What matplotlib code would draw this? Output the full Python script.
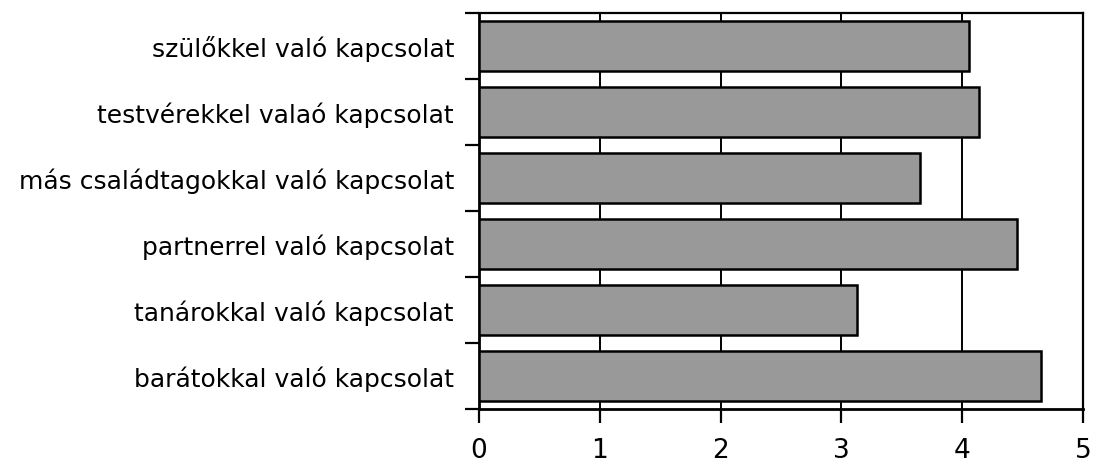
import numpy as np
import matplotlib
matplotlib.use("Agg")
import matplotlib.pyplot as plt

categories = [
    "szülőkkel való kapcsolat",
    "testvérekkel valaó kapcsolat",
    "más családtagokkal való kapcsolat",
    "partnerrel való kapcsolat",
    "tanárokkal való kapcsolat",
    "barátokkal való kapcsolat",
]
values = [4.06, 4.14, 3.65, 4.45, 3.13, 4.65]
xticks = [0, 1, 2, 3, 4, 5]

plt.rcParams['font.family'] = ['DejaVu Sans']

fig = plt.figure(figsize=(10.93, 4.64), dpi=100)
ax = fig.add_axes([479 / 1093, 1 - 410 / 464, 604 / 1093, 396 / 464])

ypos = np.arange(len(categories))[::-1] + 0.5
ax.barh(ypos, values, height=0.77, color="#999999", edgecolor="black",
        linewidth=1.8, zorder=3)

ax.set_xlim(0, 5)
ax.set_ylim(0, len(categories))
ax.set_xticks(xticks)
ax.set_xticklabels([str(t) for t in xticks])
ax.xaxis.grid(True, color="black", linewidth=1.4, zorder=1)

# ticks between categories, labels in the middle
ax.set_yticks(np.arange(len(categories) + 1))
ax.set_yticklabels([])
ax.set_yticks(ypos, minor=True)
ax.set_yticklabels(categories, minor=True)
ax.tick_params(axis="y", which="minor", length=0, pad=18, labelsize=18)
ax.tick_params(axis="y", which="major", length=10, width=1.6, direction="out")
ax.tick_params(axis="x", length=10, width=1.6, direction="out", pad=10,
               labelsize=19)

for s in ["left", "bottom"]:
    ax.spines[s].set_linewidth(2.0)
for s in ["top", "right"]:
    ax.spines[s].set_linewidth(1.6)

fig.savefig("out.png", dpi=100)
